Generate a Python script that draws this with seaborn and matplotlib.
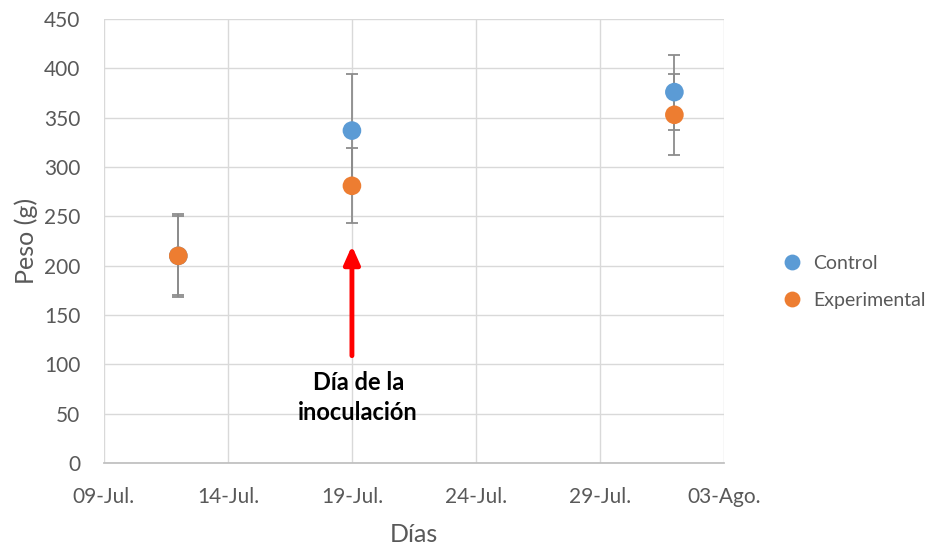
import numpy as np
import pandas as pd
import matplotlib.pyplot as plt
import matplotlib.dates as mdates
from matplotlib.ticker import FuncFormatter
import seaborn as sns

fechas = ['2023-07-12', '2023-07-19', '2023-08-01']
control = [210, 337, 376]
control_err = [42, 57, 38]
experimental = [210, 281, 353]
experimental_err = [40, 38, 41]
meses = {7: 'Jul.', 8: 'Ago.'}

dias = pd.to_datetime(fechas)
df = pd.DataFrame({
    'Días': list(dias) * 2,
    'Peso': control + experimental,
    'err': control_err + experimental_err,
    'Grupo': ['Control'] * 3 + ['Experimental'] * 3,
})

sns.set_theme(style='white')
plt.rcParams['font.family'] = ['Lato', 'DejaVu Sans']
gris = '#595959'
colores = {'Control': '#5B9BD5', 'Experimental': '#ED7D31'}

fig = plt.figure(figsize=(9.36, 5.46), dpi=100)
ax = fig.add_axes([0.111, 0.152, 0.6625, 0.813])

for grupo in ['Control', 'Experimental']:
    d = df[df['Grupo'] == grupo]
    ax.errorbar(d['Días'], d['Peso'], yerr=d['err'], fmt='none',
                ecolor='#8c8c8c', elinewidth=1.3, capsize=4, capthick=1.3, zorder=2)

sns.scatterplot(data=df, x='Días', y='Peso', hue='Grupo', palette=colores,
                s=180, edgecolor='none', ax=ax, zorder=3)

ax.set_xlim(pd.Timestamp('2023-07-09'), pd.Timestamp('2023-08-03'))
ax.set_ylim(0, 450)
ax.set_yticks(np.arange(0, 451, 50))
ax.xaxis.set_major_locator(mdates.DayLocator(bymonthday=[9, 14, 19, 24, 29, 3]))
ax.xaxis.set_major_formatter(FuncFormatter(
    lambda v, p: '%02d-%s' % (mdates.num2date(v).day, meses[mdates.num2date(v).month])))

ax.grid(True, color='#d9d9d9', linewidth=1)
ax.set_axisbelow(True)
for s in ['top', 'right', 'left']:
    ax.spines[s].set_visible(False)
ax.spines['bottom'].set_color('#bfbfbf')
ax.tick_params(axis='both', colors=gris, labelsize=15, length=0)
ax.tick_params(axis='x', pad=17)
ax.tick_params(axis='y', pad=17)

ax.set_xlabel('Días', fontsize=18, color=gris, labelpad=12)
ax.set_ylabel('Peso (g)', fontsize=18, color=gris, labelpad=4)

ax.annotate('', xy=(pd.Timestamp('2023-07-19'), 223), xytext=(pd.Timestamp('2023-07-19'), 106),
            arrowprops=dict(arrowstyle='-|>,head_width=0.4,head_length=0.9', color='#ff0000', lw=3.5),
            zorder=4)
ax.text(pd.Timestamp('2023-07-19 06:00'), 93, 'Día de la\ninoculación', ha='center', va='top',
        fontsize=17, fontweight='bold', color='black', linespacing=1.35)

leg = ax.legend(loc='center left', bbox_to_anchor=(0.825, 0.484), bbox_transform=fig.transFigure,
                frameon=False, fontsize=14, handletextpad=0.1, labelspacing=1.05, markerscale=0.85,
                borderaxespad=0, borderpad=0)
for t in leg.get_texts():
    t.set_color(gris)

fig.savefig('out.png', dpi=100)
